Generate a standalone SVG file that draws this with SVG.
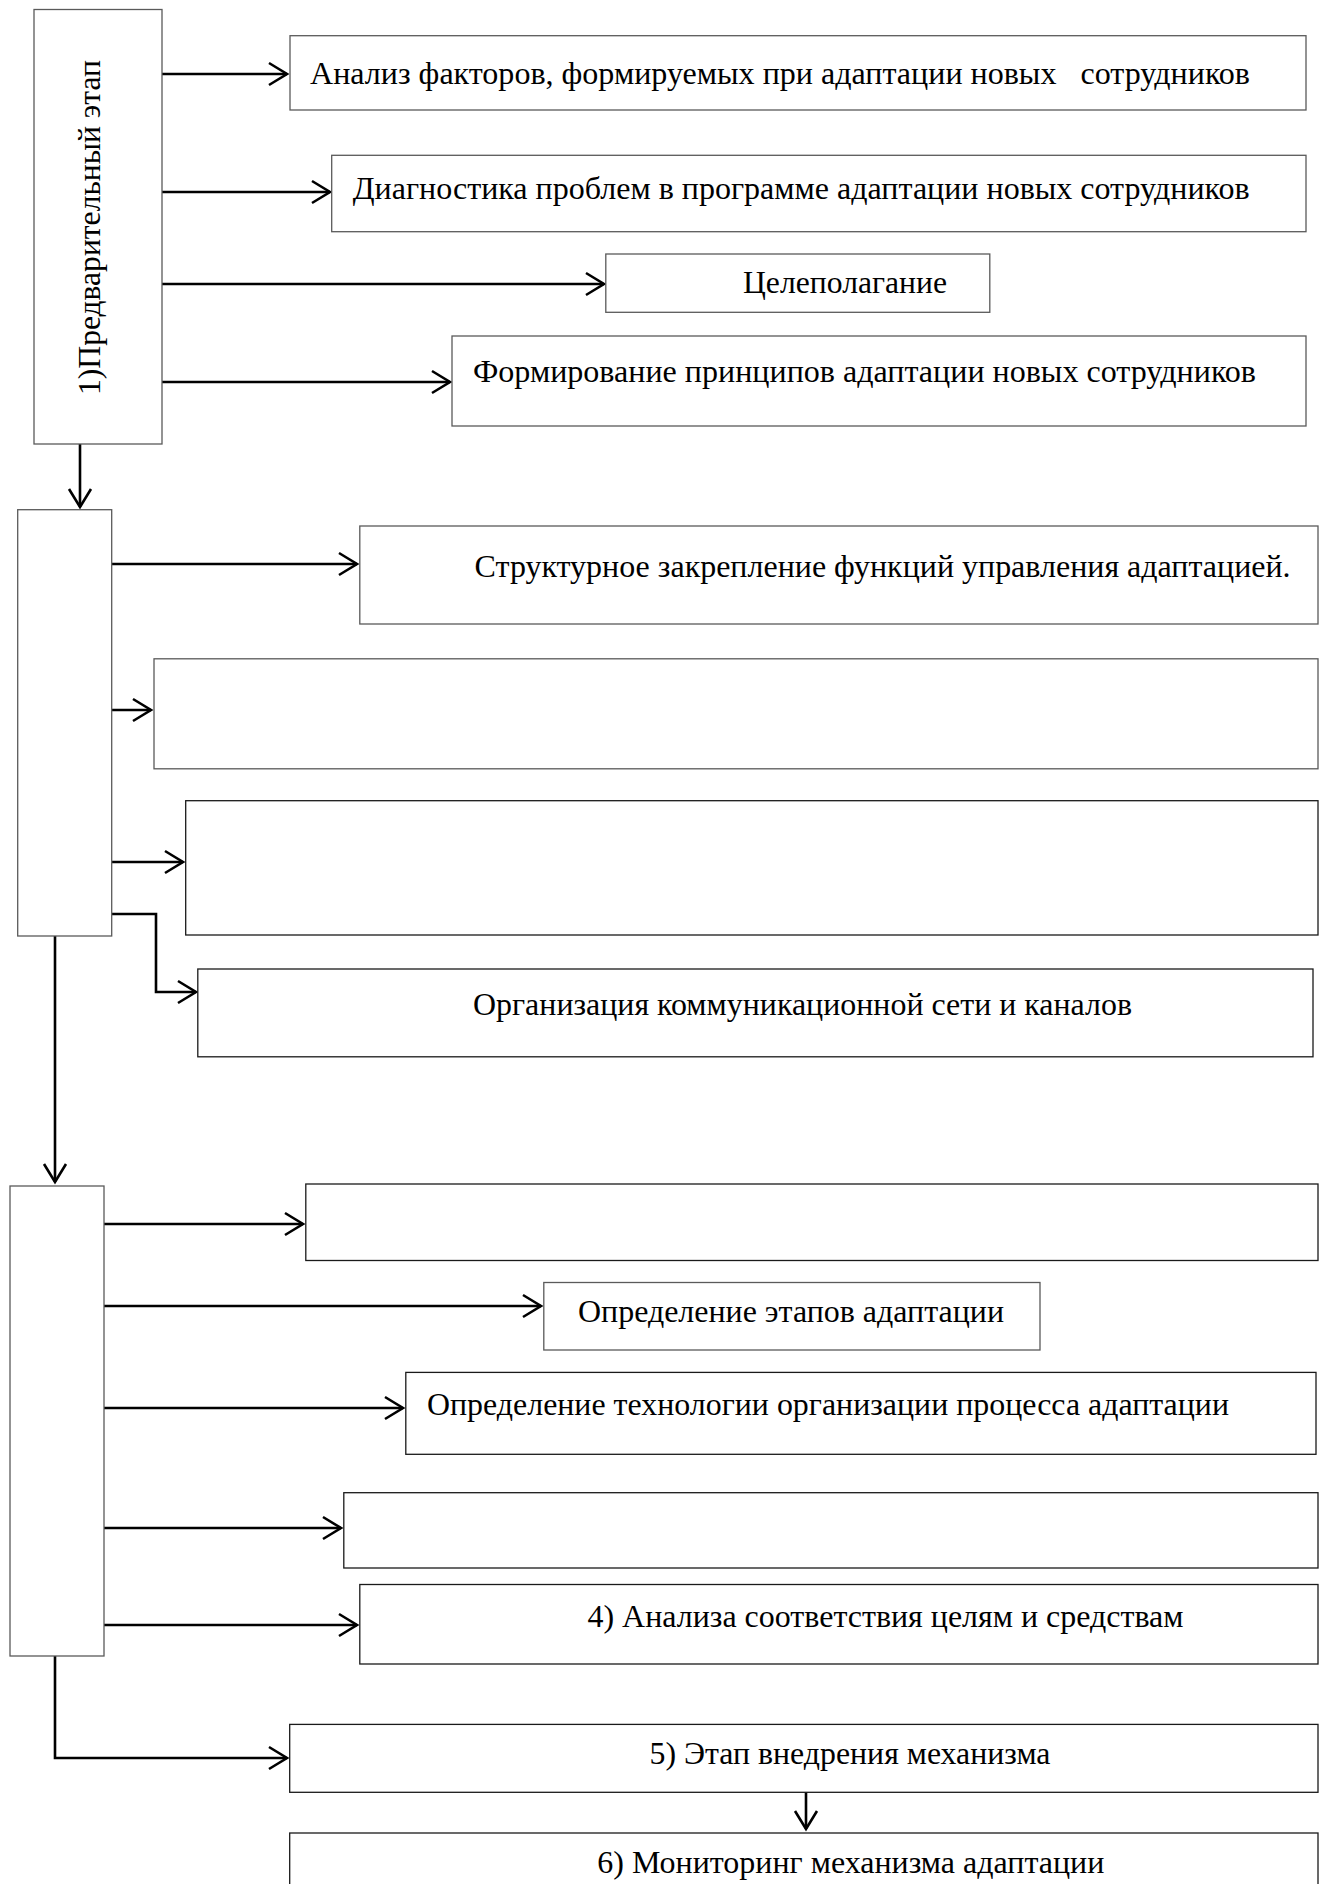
<svg xmlns="http://www.w3.org/2000/svg" width="1325" height="1884" viewBox="0 0 1325 1884">
<style>
.box{fill:#fff;stroke:#5a5a5a;stroke-width:1.3}
.dk{stroke:#1a1a1a}
.ln{fill:none;stroke:#000;stroke-width:2.6}
.t{font-family:"Liberation Serif","Times New Roman",serif;font-size:31.5px;fill:#000;white-space:pre}
</style>
<defs>
<marker id="ah" markerUnits="userSpaceOnUse" markerWidth="24" markerHeight="26" viewBox="-20 -13 22 26" refX="0" refY="0" orient="auto">
<path d="M-18,-11 L0,0 L-18,11" fill="none" stroke="#000" stroke-width="2.6"/>
</marker>
</defs>
<rect width="1325" height="1884" fill="#fff"/>

<g id="connectors">
<line class="ln" x1="162" y1="74" x2="287" y2="74" marker-end="url(#ah)"/>
<line class="ln" x1="162" y1="192" x2="330" y2="192" marker-end="url(#ah)"/>
<line class="ln" x1="162" y1="284" x2="604" y2="284" marker-end="url(#ah)"/>
<line class="ln" x1="162" y1="382" x2="450" y2="382" marker-end="url(#ah)"/>
<line class="ln" x1="80" y1="444" x2="80" y2="507" marker-end="url(#ah)"/>
<line class="ln" x1="112" y1="564" x2="357" y2="564" marker-end="url(#ah)"/>
<line class="ln" x1="112" y1="710" x2="151" y2="710" marker-end="url(#ah)"/>
<line class="ln" x1="112" y1="862" x2="183" y2="862" marker-end="url(#ah)"/>
<polyline class="ln" points="112,914 156,914 156,992 196,992" marker-end="url(#ah)"/>
<line class="ln" x1="55" y1="936" x2="55" y2="1182" marker-end="url(#ah)"/>
<line class="ln" x1="104" y1="1224" x2="303" y2="1224" marker-end="url(#ah)"/>
<line class="ln" x1="97" y1="1306" x2="541" y2="1306" marker-end="url(#ah)"/>
<line class="ln" x1="104" y1="1408" x2="403" y2="1408" marker-end="url(#ah)"/>
<line class="ln" x1="104" y1="1528" x2="341" y2="1528" marker-end="url(#ah)"/>
<line class="ln" x1="104" y1="1625" x2="357" y2="1625" marker-end="url(#ah)"/>
<polyline class="ln" points="55,1656 55,1758 287,1758" marker-end="url(#ah)"/>
<line class="ln" x1="806" y1="1792" x2="806" y2="1829" marker-end="url(#ah)"/>
</g>

<g id="stage1">
<rect class="box" x="34" y="9.5" width="128" height="434.5"/>
<text class="t" transform="translate(100,395) rotate(-90)" textLength="335" lengthAdjust="spacingAndGlyphs">1)Предварительный этап</text>
</g>
<g id="stage2"><rect class="box" x="17.7" y="509.7" width="94" height="426.3"/></g>
<g id="stage3"><rect class="box" x="10" y="1186" width="94" height="470"/></g>

<g id="nA"><rect class="box" x="290" y="35.7" width="1016" height="74.3"/>
<text class="t" x="310" y="84" textLength="940" lengthAdjust="spacingAndGlyphs">Анализ факторов, формируемых при адаптации новых   сотрудников</text></g>
<g id="nB"><rect class="box" x="331.7" y="155.3" width="974.3" height="76.4"/>
<text class="t" x="352.7" y="199" textLength="897" lengthAdjust="spacingAndGlyphs">Диагностика проблем в программе адаптации новых сотрудников</text></g>
<g id="nC"><rect class="box" x="605.8" y="254" width="384" height="58.3"/>
<text class="t" x="743" y="293" textLength="204" lengthAdjust="spacingAndGlyphs">Целеполагание</text></g>
<g id="nD"><rect class="box" x="452" y="336" width="854" height="90"/>
<text class="t" x="473" y="382" textLength="783" lengthAdjust="spacingAndGlyphs">Формирование принципов адаптации новых сотрудников</text></g>

<g id="nE"><rect class="box" x="359.8" y="526" width="958.2" height="98"/>
<text class="t" x="474.6" y="577" textLength="816" lengthAdjust="spacingAndGlyphs">Структурное закрепление функций управления адаптацией.</text></g>
<g id="nF"><rect class="box" x="154" y="658.8" width="1164" height="110"/></g>
<g id="nG"><rect class="box dk" x="185.7" y="800.7" width="1132.3" height="134.3"/></g>
<g id="nH"><rect class="box dk" x="197.8" y="969" width="1115.2" height="87.8"/>
<text class="t" x="473" y="1015" textLength="659" lengthAdjust="spacingAndGlyphs">Организация коммуникационной сети и каналов</text></g>

<g id="nI"><rect class="box dk" x="305.8" y="1184" width="1012.2" height="76.5"/></g>
<g id="nJ"><rect class="box" x="543.8" y="1282.5" width="496.2" height="67.5"/>
<text class="t" x="578" y="1322" textLength="426" lengthAdjust="spacingAndGlyphs">Определение этапов адаптации</text></g>
<g id="nK"><rect class="box dk" x="405.8" y="1372.4" width="910.2" height="81.9"/>
<text class="t" x="427" y="1415" textLength="802" lengthAdjust="spacingAndGlyphs">Определение технологии организации процесса адаптации</text></g>
<g id="nL"><rect class="box dk" x="343.8" y="1492.7" width="974.2" height="75.3"/></g>
<g id="nM"><rect class="box dk" x="359.8" y="1584.5" width="958.2" height="79.5"/>
<text class="t" x="587.5" y="1627" textLength="596" lengthAdjust="spacingAndGlyphs">4) Анализа соответствия целям и средствам</text></g>
<g id="nN"><rect class="box dk" x="289.7" y="1724.4" width="1028.3" height="67.9"/>
<text class="t" x="649.5" y="1764" textLength="401" lengthAdjust="spacingAndGlyphs">5) Этап внедрения механизма</text></g>
<g id="nO"><rect class="box dk" x="289.7" y="1833" width="1028.3" height="80"/>
<text class="t" x="597.3" y="1873" textLength="507" lengthAdjust="spacingAndGlyphs">6) Мониторинг механизма адаптации</text></g>
</svg>
